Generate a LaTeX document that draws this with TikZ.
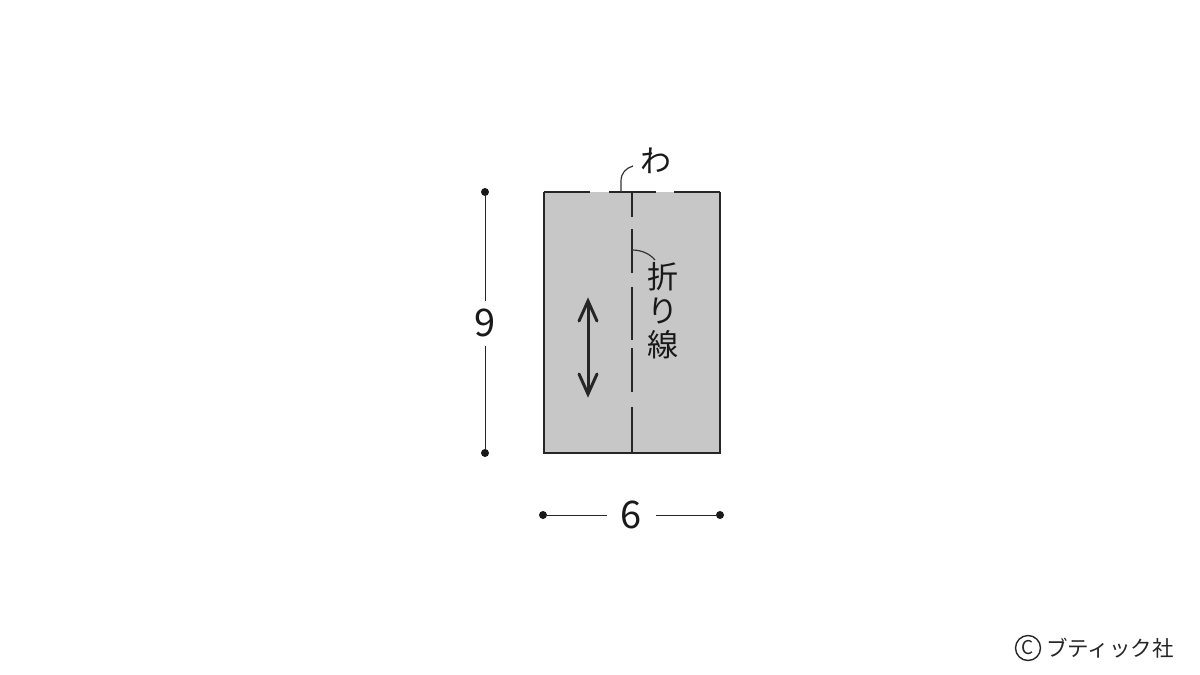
\documentclass[tikz,border=0pt]{standalone}
\usepackage{fontspec}
\newfontfamily\jp{Noto Sans CJK JP}
\begin{document}
\begin{tikzpicture}[x=1pt,y=-1pt,
  lbl/.style={font=\jp\fontsize{31}{31}\selectfont, text=black!90, inner sep=0},
  num/.style={font=\jp\fontsize{38}{38}\selectfont, text=black!90, inner sep=0},
  dimline/.style={line width=1pt, black!85},
  dimdot/.style={circle, fill=black!90, minimum size=8pt, inner sep=0},
  fold/.style={line width=1.4pt, black!85},
  leader/.style={line width=1.2pt, black!80}]
\useasboundingbox (0,0) rectangle (1200,675);
% cloth piece
\fill[black!22] (544,192) rectangle (720,453);
\draw[line width=2pt, black!85] (544,192) -- (544,453) -- (720,453) -- (720,192);
\draw[line width=2pt, black!85] (544,192) -- (590,192);
\draw[line width=2pt, black!85] (609,192) -- (656,192);
\draw[line width=2pt, black!85] (674,192) -- (720,192);
% fold line
\draw[fold] (632,192) -- (632,217);
\draw[fold] (632,229) -- (632,273);
\draw[fold] (632,287) -- (632,340);
\draw[fold] (632,348) -- (632,392);
\draw[fold] (632,407) -- (632,453);
% labels
\node[lbl] (wa) at (656,161) {わ};
\coordinate (waend) at (621,192);
\coordinate (watip) at (633,166);
\draw[leader] (waend) -- (621,181) .. controls (621,173) and (626,168) .. (watip);
\node[lbl, align=center, font=\jp\fontsize{31}{34}\selectfont] (ori) at (663,311) {折\\り\\線};
\coordinate (oriend) at (632,250);
\coordinate (oritip) at (655,260);
\draw[leader] (oriend) .. controls (642,250) and (650,254) .. (oritip);
% grain arrow
\coordinate (gtop) at (588,301);
\coordinate (gbot) at (588,394);
\draw[line width=3pt, black!85] (gtop) -- (gbot);
\draw[line width=3pt, black!85, line cap=round, line join=miter] (579,321) -- (gtop) -- (597,321);
\draw[line width=3pt, black!85, line cap=round, line join=miter] (579,374) -- (gbot) -- (597,374);
% height dimension
\node[dimdot] (h1) at (485,192) {};
\node[dimdot] (h2) at (485,453) {};
\node[num] (h) at (485,323) {9};
\draw[dimline] (h1) -- (485,301);
\draw[dimline] (485,346) -- (h2);
% width dimension
\node[dimdot] (w1) at (543,515) {};
\node[dimdot] (w2) at (720,515) {};
\node[num] (w) at (631,515) {6};
\draw[dimline] (w1) -- (607,515);
\draw[dimline] (656,515) -- (w2);
% copyright
\node[circle, draw=black!85, line width=1.4pt, minimum size=25pt, inner sep=0,
      font=\jp\fontsize{19}{19}\selectfont, text=black!85] (cc) at (1028,648) {C};
\node[font=\jp\fontsize{21.5}{21.5}\selectfont, text=black!85, anchor=west, inner sep=0] (copy) at (1046,648) {ブティック社};
\end{tikzpicture}
\end{document}
